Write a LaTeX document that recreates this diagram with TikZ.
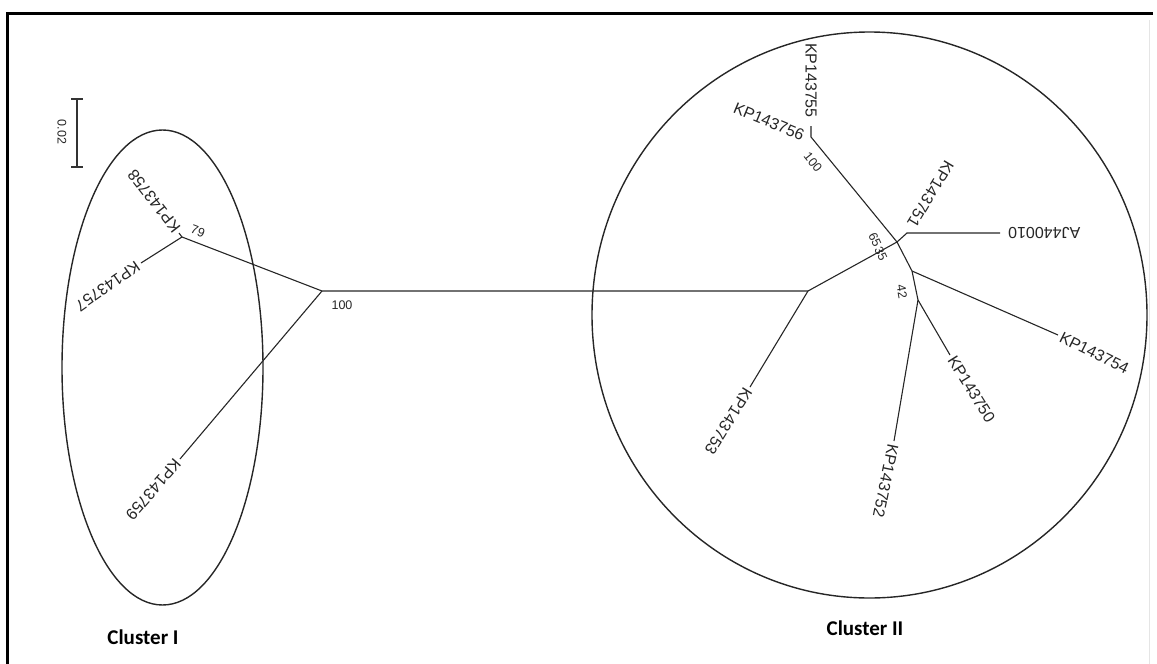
\documentclass[tikz,border=0pt]{standalone}
\usepackage{fontspec}
\setmainfont{Liberation Sans}
\newfontfamily\clusterfont{Carlito}
\usetikzlibrary{positioning,calc}

\begin{document}
\begin{tikzpicture}[x=1pt,y=-1pt,every node/.style={inner sep=0pt,text=black!85},
  branch/.style={line width=1.1pt,draw=black!85},
  hull/.style={line width=1.4pt,draw=black!85},
  leafout/.style={font=\fontsize{16}{18}\selectfont,anchor=west,inner sep=3pt},
  leafin/.style={font=\fontsize{16}{18}\selectfont,anchor=east,inner sep=8pt},
  boot/.style={font=\fontsize{12.5}{14}\selectfont},
  clusterlab/.style={font=\clusterfont\bfseries\fontsize{21}{24}\selectfont,text=black}]
  \useasboundingbox (0,0) rectangle (1157,664);
  % frame
  \draw[line width=2.7pt] (7.5,664) -- (7.5,13.7) -- (1153,13.7);
  \draw[black!10,line width=1pt] (1149,20) -- (1149,664);

  % scale bar
  \coordinate (s1) at (77,99);
  \coordinate (s2) at (77,167);
  \draw[line width=1.5pt,black!80] (s1) -- (s2);
  \draw[line width=1.5pt,black!80] ($(s1)+(-6,0)$) -- ($(s1)+(6,0)$);
  \draw[line width=1.5pt,black!80] ($(s2)+(-6,0)$) -- ($(s2)+(6,0)$);
  \node[boot,rotate=-90] (scale) at (62,132) {0.02};

  % cluster outlines
  \draw[hull] (162.5,367.5) ellipse [x radius=100.5,y radius=237.5];
  \draw[hull] (869.5,315) ellipse [x radius=277.5,y radius=283];

  % tree points
  \coordinate (A) at (322,291);
  \coordinate (B) at (182,237);
  \coordinate (t58) at (179,233);
  \coordinate (t57) at (141,263);
  \coordinate (t59) at (180,459);
  \coordinate (C) at (808,291);
  \coordinate (t53) at (750,387);
  \coordinate (D) at (897,242);
  \coordinate (N56) at (811,137);
  \coordinate (t55) at (811,126);
  \coordinate (Dp) at (907,233);
  \coordinate (tAJ) at (1000,233);
  \coordinate (E) at (912,271);
  \coordinate (t54) at (1058,335);
  \coordinate (F) at (918,300);
  \coordinate (t50) at (950,355);
  \coordinate (t52) at (894,441);

  % branches
  \draw[branch] (t58) -- (B) -- (A) -- (C) -- (D) -- (Dp) -- (tAJ);
  \draw[branch] (B) -- (t57);
  \draw[branch] (A) -- (t59);
  \draw[branch] (C) -- (t53);
  \draw[branch] (t55) -- (N56) -- (D) -- (E) -- (F) -- (t52);
  \draw[branch] (E) -- (t54);
  \draw[branch] (F) -- (t50);

  % leaf labels
  \node[leafout,rotate=128] (l58) at (t58) {KP143758};
  \node[leafout,rotate=215] (l57) at (t57) {KP143757};
  \node[leafout,rotate=229] (l59) at (t59) {KP143759};
  \node[leafout,rotate=238] (l53) at (t53) {KP143753};
  \node[leafout,rotate=258.4] (l52) at (t52) {KP143752};
  \node[leafout,rotate=302] (l50) at (t50) {KP143750};
  \node[leafout,rotate=-26.6] (l54) at (t54) {KP143754};
  \node[leafin,rotate=180] (lAJ) at (tAJ) {AJ440010};
  \node[leafin,rotate=239] (l51) at (Dp) {KP143751};
  \node[leafin,rotate=270] (l55) at (t55) {KP143755};
  \node[leafin,rotate=-22.6] (l56) at ($(N56)+(0,2)$) {KP143756};

  % bootstrap values
  \node[boot] (bA) at (342,305) {100};
  \node[boot,rotate=-21] (bB) at (198,231) {79};
  \node[boot,rotate=-51] (bN) at (813,162) {100};
  \node[boot,rotate=-65] (bD1) at (875,240) {65};
  \node[boot,rotate=-65] (bD2) at (881,254) {35};
  \node[boot,rotate=-80] (bE) at (902,292) {42};

  % cluster names
  \node[clusterlab] (c1) at (143,637) {Cluster I};
  \node[clusterlab] (c2) at (865,628) {Cluster II};
\end{tikzpicture}
\end{document}
